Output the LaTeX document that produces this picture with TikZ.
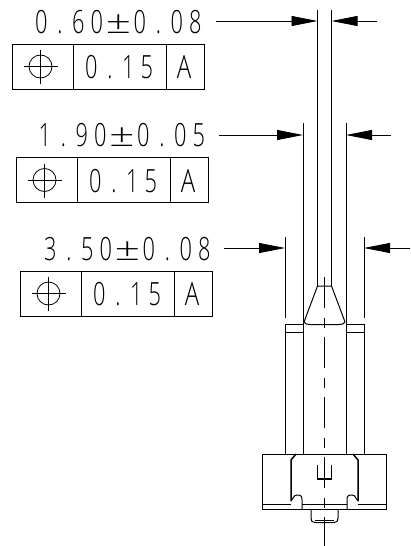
\documentclass[tikz,border=0pt]{standalone}
\usepackage{fontspec}
\usepackage{graphicx}
\usetikzlibrary{arrows.meta}
\newfontfamily\cadfont{Open Sans Light}
\newcommand{\cc}[1]{\makebox[18.5pt]{\scalebox{0.68}[1]{#1}}}
\newcommand{\cpm}{\makebox[24.5pt]{\scalebox{1.4}[1]{±}}}
\tikzset{
  part/.style={line width=1pt,black},
  heavy/.style={line width=1.5pt,black},
  thinpart/.style={line width=0.8pt,black},
  axis/.style={line width=0.9pt,black,dash pattern=on 31pt off 9.5pt on 10pt off 9.5pt},
  dimline/.style={line width=0.8pt,black,-{Triangle[length=26pt,width=10pt]}},
  cadtext/.style={inner sep=0pt,anchor=base west,font=\cadfont\fontsize{32}{32}\selectfont},
}
\begin{document}
\begin{tikzpicture}[x=1pt,y=-1pt]
  \useasboundingbox (0,0) rectangle (411,546);

  % dimension texts
  \node[cadtext] (tol a) at (32,33) {\cc{0}\cc{.}\cc{6}\cc{0}\cpm\cc{0}\cc{.}\cc{0}\cc{8}};
  \node[cadtext] (tol b) at (35.5,146.5) {\cc{1}\cc{.}\cc{9}\cc{0}\cpm\cc{0}\cc{.}\cc{0}\cc{5}};
  \node[cadtext] (tol c) at (41,260) {\cc{3}\cc{.}\cc{5}\cc{0}\cpm\cc{0}\cc{.}\cc{0}\cc{8}};

  % position frames
  \foreach \i/\dx/\dy in {a/0/0,b/4/113.5,c/8/227} {
    \begin{scope}[shift={(\dx,\dy)}]
      \draw[part] (12.5,44) rectangle (204,89);
      \draw[part] (73.5,44) -- (73.5,89);
      \draw[part] (166,44) -- (166,89);
      \draw[thinpart] (40.5,66.5) circle (11.5);
      \draw[thinpart] (23.5,66.5) -- (58,66.5);
      \draw[thinpart] (40.5,50) -- (40.5,84);
      \node[cadtext] (val \i) at (82,78.5) {\cc{0}\cc{.}\cc{1}\cc{5}};
      \node[cadtext,anchor=base] (dat \i) at (184,78.5) {\scalebox{0.75}[1]{A}};
    \end{scope}
  }

  % dimension arrows
  \foreach \i/\y/\xa/\xb/\xs/\xe in {a/21/317.5/331.5/215.5/377,b/135/303/346/219/391,c/248/285/364/224/410} {
    \coordinate (from \i) at (\xs,\y);
    \coordinate (to \i) at (\xe,\y);
    \coordinate (lft \i) at (\xa,\y);
    \coordinate (rgt \i) at (\xb,\y);
    \draw[dimline] (from \i) -- (lft \i);
    \draw[dimline] (to \i) -- (rgt \i);
  }

  % extension lines
  \draw[part] (317.5,10) -- (317.5,286);
  \draw[part] (331.5,10) -- (331.5,286);
  \draw[part] (303,123) -- (303,454);
  \draw[part] (346,123) -- (346,454);
  \draw[part] (285,237) -- (285,318);
  \draw[part] (364,237) -- (364,318);

  % pin tip
  \draw[part] (304,322) -- (317.5,286) -- (331.5,286) -- (345,322);
  \draw[part] (304,322) .. controls (305,324) and (307,324.5) .. (310,324.5) -- (339,324.5) .. controls (342,324.5) and (344,324) .. (345,322);

  % shoulder
  \draw[part] (285,454) -- (285,324.5) -- (303,324.5);
  \draw[part] (364,454) -- (364,324.5) -- (346,324.5);
  \draw[part] (285,332) -- (303,332);
  \draw[part] (346,332) -- (364,332);

  % base
  \draw[part] (262,454) rectangle (386.5,509);
  \draw[thinpart] (262,504) -- (291,504);
  \draw[thinpart] (358,504) -- (386.5,504);
  \draw[thinpart] (302,504) -- (347,504);
  \draw[heavy] (296,454) -- (291,460) -- (291,501);
  \draw[heavy] (353,454) -- (358,460) -- (358,501);
  \draw[part] (291,501) .. controls (294,499) and (293,495) .. (297,495) .. controls (301,495) and (302,496) .. (302,500) -- (302,509);
  \draw[part] (358,501) .. controls (355,499) and (356,495) .. (352,495) .. controls (348,495) and (347,496) .. (347,500) -- (347,509);

  % inner cup
  \draw[part] (317.7,465) -- (317.7,479);
  \draw[part] (331.7,465) -- (331.7,479);
  \draw[heavy] (317,479) -- (332.4,479);

  % stud
  \draw[part] (311,509) -- (311,518) .. controls (311,521) and (312,522.5) .. (315,522.5) -- (334,522.5) .. controls (337,522.5) and (338,521) .. (338,518) -- (338,509);
  \draw[thinpart] (315,520) -- (334,520);

  % centre line
  \draw[axis] (324.5,277) -- (324.5,546);
\end{tikzpicture}
\end{document}
